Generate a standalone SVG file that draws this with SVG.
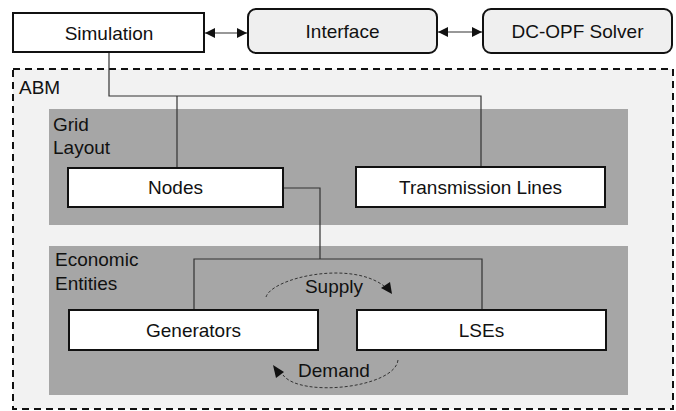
<svg xmlns="http://www.w3.org/2000/svg" width="676" height="411" viewBox="0 0 676 411">
  <defs>
    <style>
      text { font-family: "Liberation Sans", Arial, sans-serif; font-size: 19px; fill: #111; }
      .c { text-anchor: middle; }
      .box { fill: #fff; stroke: #111; stroke-width: 2; }
      .rbox { fill: #efefef; stroke: #111; stroke-width: 2; }
      .panel { fill: #a6a6a6; stroke: none; }
      .conn { fill: none; stroke: #333; stroke-width: 1.2; }
      .dash { fill: none; stroke: #333; stroke-width: 1; stroke-dasharray: 3 2; }
      .ah { fill: #111; }
    </style>
    <marker id="arr" viewBox="0 0 10 10" refX="10" refY="5" markerWidth="10" markerHeight="10" markerUnits="userSpaceOnUse" orient="auto-start-reverse">
      <path d="M0 0 L10 5 L0 10 Z" fill="#111"/>
    </marker>
  </defs>

  <g id="abm">
    <rect x="13" y="69" width="660" height="340" fill="#f2f2f2" stroke="#111" stroke-width="2" stroke-dasharray="7 5"/>
    <text x="19" y="94">ABM</text>
  </g>

  <g id="grid-layout">
    <rect class="panel" x="49" y="109" width="579" height="116"/>
    <text x="53" y="131">Grid</text>
    <text x="53" y="154">Layout</text>
  </g>

  <g id="economic-entities">
    <rect class="panel" x="49" y="246" width="579" height="149"/>
    <text x="55" y="266">Economic</text>
    <text x="55" y="290">Entities</text>
  </g>

  <g id="connectors">
    <path class="conn" d="M109 52 V96 H481 V166"/>
    <path class="conn" d="M177 96 V168"/>
    <path class="conn" d="M283 188 H320 V259"/>
    <path class="conn" d="M194 310 V259 H482 V310"/>
    <line class="conn" x1="205" y1="33" x2="247" y2="33" marker-start="url(#arr)" marker-end="url(#arr)"/>
    <line class="conn" x1="438" y1="32" x2="482" y2="32" marker-start="url(#arr)" marker-end="url(#arr)"/>
    <path class="dash" d="M266 297 C272 278, 350 260, 384 286"/>
    <polygon class="ah" points="381,288 390,282 392,294"/>
    <path class="dash" d="M398 360 C395 388, 300 398, 283 375"/>
    <polygon class="ah" points="273,365 284,372 276,378"/>
    <text class="c" x="334" y="293">Supply</text>
    <text class="c" x="334" y="377">Demand</text>
  </g>

  <g id="simulation">
    <rect class="box" x="13" y="13" width="191" height="39"/>
    <text class="c" x="109" y="40">Simulation</text>
  </g>
  <g id="interface">
    <rect class="rbox" x="248" y="9" width="189" height="44" rx="8"/>
    <text class="c" x="342.5" y="38">Interface</text>
  </g>
  <g id="dc-opf-solver">
    <rect class="rbox" x="483" y="9" width="189" height="44" rx="8"/>
    <text class="c" x="577.5" y="38">DC-OPF Solver</text>
  </g>
  <g id="nodes">
    <rect class="box" x="68" y="168" width="215" height="39"/>
    <text class="c" x="175.5" y="194">Nodes</text>
  </g>
  <g id="transmission-lines">
    <rect class="box" x="356" y="167" width="249" height="40"/>
    <text class="c" x="480.5" y="194">Transmission Lines</text>
  </g>
  <g id="generators">
    <rect class="box" x="69" y="310" width="249" height="40"/>
    <text class="c" x="193.5" y="337">Generators</text>
  </g>
  <g id="lses">
    <rect class="box" x="357" y="310" width="249" height="40"/>
    <text class="c" x="481.5" y="337">LSEs</text>
  </g>
</svg>
